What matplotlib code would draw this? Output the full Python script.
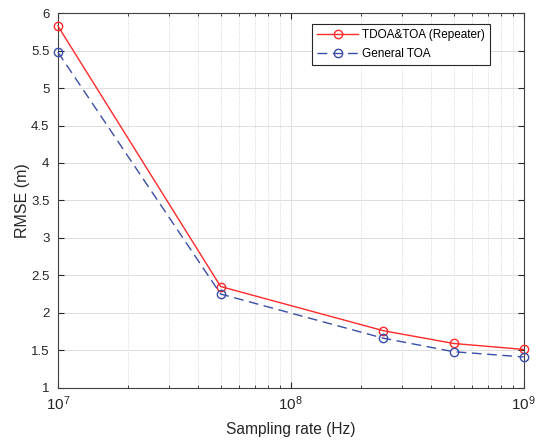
import matplotlib
matplotlib.use("Agg")
import matplotlib.pyplot as plt
import numpy as np

plt.rcParams['font.family'] = ['Liberation Sans', 'DejaVu Sans']
plt.rcParams['mathtext.fontset'] = 'custom'
plt.rcParams['mathtext.rm'] = 'Liberation Sans'
plt.rcParams['mathtext.it'] = 'Liberation Sans'
plt.rcParams['mathtext.default'] = 'regular'

rates = [1e7, 5e7, 2.5e8, 5e8, 1e9]
rmse_repeater = [5.83, 2.35, 1.76, 1.59, 1.51]
rmse_toa = [5.48, 2.25, 1.66, 1.48, 1.41]
labels = ['TDOA&TOA (Repeater)', 'General TOA']

fig = plt.figure(figsize=(5.46, 4.4), dpi=100)
ax = fig.add_axes([0.106, 0.119, 0.853, 0.851])

ax.plot(rates, rmse_repeater, '-o', color='#ff2a2a', lw=1.0, ms=6,
        mfc='none', mew=1.0, clip_on=False, zorder=3, label=labels[0])
ax.plot(rates, rmse_toa, '--o', color='#3a4ea8', lw=1.0, ms=6,
        mfc='none', mew=1.0, dashes=(7, 4), clip_on=False, zorder=3,
        label=labels[1])

ax.set_xscale('log')
ax.set_xlim(1e7, 1e9)
ax.set_ylim(1, 6)
ax.set_yticks(np.arange(1, 6.01, 0.5))
ax.set_yticklabels(['1', '1.5', '2', '2.5', '3', '3.5', '4', '4.5', '5', '5.5', '6'])

ax.grid(True, which='major', color='#dddddd', lw=0.7)
ax.grid(True, which='minor', axis='x', color='#cccccc', lw=0.6, ls=':')
ax.tick_params(which='both', direction='in', top=True, right=True,
               colors='#262626')
ax.tick_params(axis='y', labelsize=9.5, pad=6)
ax.tick_params(axis='x', labelsize=11, pad=5)
ax.tick_params(which='major', length=4)
ax.tick_params(which='minor', length=2)
for s in ax.spines.values():
    s.set_color('#404040')
    s.set_linewidth(0.8)

ax.set_xlabel('Sampling rate (Hz)', fontsize=11.2, color='#262626', labelpad=6)
ax.set_ylabel('RMSE (m)', fontsize=11.5, color='#262626', labelpad=1)

leg = ax.legend(loc='upper right', fontsize=8.5, fancybox=False,
                edgecolor='#262626', framealpha=1, borderaxespad=0,
                bbox_to_anchor=(490 / 546, 1 - 24 / 440),
                bbox_transform=fig.transFigure, handlelength=3.5,
                handletextpad=0.3, borderpad=0.45, labelspacing=0.55)
leg.get_frame().set_linewidth(0.8)

fig.savefig('out.png', dpi=100)
